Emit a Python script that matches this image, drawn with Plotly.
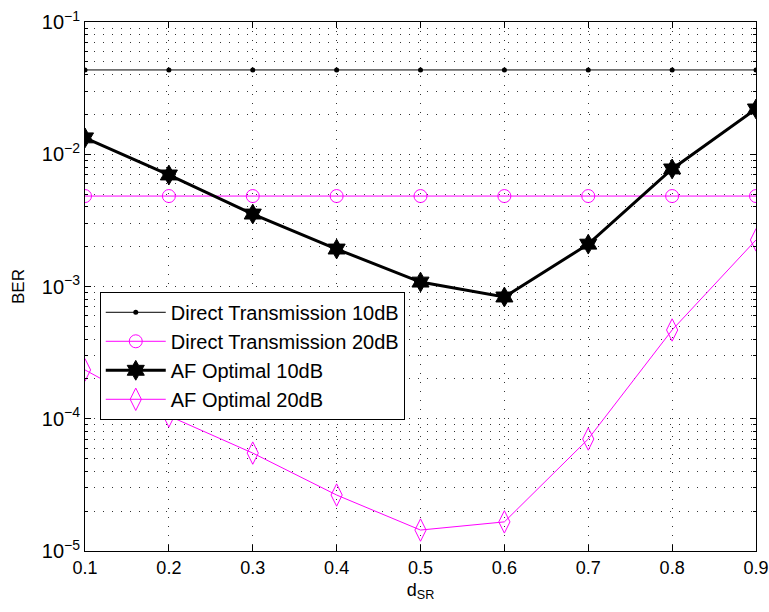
import plotly.graph_objects as go

d_sr = [0.1, 0.2, 0.3, 0.4, 0.5, 0.6, 0.7, 0.8, 0.9]
direct_10 = [0.0434] * 9
direct_20 = [0.00483] * 9
af_10 = [0.0133, 0.00697, 0.00353, 0.00192, 0.00108, 0.000833, 0.00209, 0.00774, 0.0220]
af_20 = [0.000234, 0.000105, 5.5e-5, 2.65e-5, 1.44e-5, 1.66e-5, 7.03e-5, 0.000469, 0.00225]

x_ticks = [0.1, 0.2, 0.3, 0.4, 0.5, 0.6, 0.7, 0.8, 0.9]
y_tickvals = [1e-5, 1e-4, 1e-3, 1e-2, 1e-1]
y_ticktext = ["10<sup>−5</sup>", "10<sup>−4</sup>", "10<sup>−3</sup>", "10<sup>−2</sup>", "10<sup>−1</sup>"]

MAG = "#ff00ff"
fig = go.Figure()
fig.add_trace(go.Scatter(x=d_sr, y=direct_10, name="Direct Transmission 10dB", mode="lines+markers",
                         line=dict(color="black", width=1), marker=dict(symbol="circle", size=5, color="black")))
fig.add_trace(go.Scatter(x=d_sr, y=direct_20, name="Direct Transmission 20dB", mode="lines+markers",
                         line=dict(color=MAG, width=1),
                         marker=dict(symbol="circle-open", size=13, color=MAG, line=dict(width=1, color=MAG))))
fig.add_trace(go.Scatter(x=d_sr, y=af_10, name="AF Optimal 10dB", mode="lines+markers",
                         line=dict(color="black", width=3),
                         marker=dict(symbol="hexagram", size=15, color="black", line=dict(width=1, color="black"))))
fig.add_trace(go.Scatter(x=d_sr, y=af_20, name="AF Optimal 20dB", mode="lines+markers",
                         line=dict(color=MAG, width=1),
                         marker=dict(symbol="diamond-tall-open", size=16, color=MAG, line=dict(width=1, color=MAG))))

DOT = "1px,8px"
GC = "#333333"
fig.update_xaxes(range=[0.1, 0.9], tickvals=x_ticks, ticktext=[str(v) for v in x_ticks],
                 automargin=False,
                 showline=True, linecolor="black", linewidth=1, mirror="allticks",
                 ticks="inside", ticklen=6, tickcolor="black",
                 showgrid=True, gridcolor=GC, griddash=DOT, gridwidth=1, zeroline=False,
                 title=dict(text="d<sub>SR</sub>", font=dict(size=18, color="black"), standoff=6),
                 tickfont=dict(size=18, color="black"))
fig.update_yaxes(type="log", range=[-5, -1], tickvals=y_tickvals, ticktext=y_ticktext,
                 automargin=False,
                 showline=True, linecolor="black", linewidth=1, mirror="allticks",
                 ticks="inside", ticklen=6, tickcolor="black",
                 showgrid=True, gridcolor=GC, griddash=DOT, gridwidth=1, zeroline=False,
                 minor=dict(dtick="D1", ticks="inside", ticklen=3, tickcolor="black",
                            showgrid=True, gridcolor=GC, griddash=DOT, gridwidth=1),
                 title=dict(text="BER", font=dict(size=17, color="black"), standoff=12),
                 tickfont=dict(size=20, color="black"))

fig.update_layout(width=769, height=612, margin=dict(l=85, r=13, t=22, b=61, autoexpand=False),
                  paper_bgcolor="white", plot_bgcolor="white",
                  font=dict(family="Liberation Sans, Arial, sans-serif", color="black"),
                  legend=dict(x=0.022, y=0.49, xanchor="left", yanchor="top",
                              bgcolor="white", bordercolor="black", borderwidth=1,
                              font=dict(size=20, color="black"), tracegroupgap=0, itemwidth=60),
                  showlegend=True)
fig.write_html("out.html")
